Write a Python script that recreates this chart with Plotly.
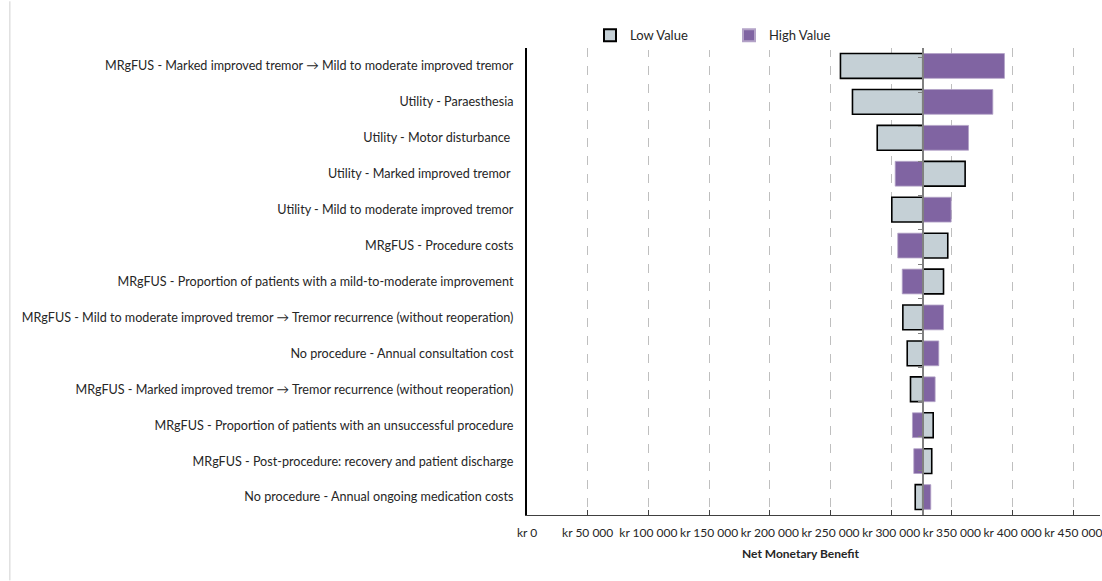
import plotly.graph_objects as go

# Tornado diagram: one-way sensitivity of the net monetary benefit (NOK)
parameters = [
    "MRgFUS - Marked improved tremor \u2192 Mild to moderate improved tremor",
    "Utility - Paraesthesia",
    "Utility - Motor disturbance ",
    "Utility - Marked improved tremor ",
    "Utility - Mild to moderate improved tremor",
    "MRgFUS - Procedure costs",
    "MRgFUS - Proportion of patients with a mild-to-moderate improvement",
    "MRgFUS - Mild to moderate improved tremor \u2192 Tremor recurrence (without reoperation)",
    "No procedure - Annual consultation cost",
    "MRgFUS - Marked improved tremor \u2192 Tremor recurrence (without reoperation)",
    "MRgFUS - Proportion of patients with an unsuccessful procedure",
    "MRgFUS - Post-procedure: recovery and patient discharge",
    "No procedure - Annual ongoing medication costs",
]
base_nmb = 326000
low_values = [258200, 268100, 288500, 360900, 300500, 346600, 343100,
              309600, 313200, 315900, 334600, 333400, 319800]
high_values = [393300, 383700, 363700, 303300, 349400, 305400, 309100,
               343100, 339200, 336200, 317500, 318600, 332600]

tick_vals = [0, 50000, 100000, 150000, 200000, 250000, 300000, 350000, 400000, 450000]
tick_text = ["kr 0", "kr 50 000", "kr 100 000", "kr 150 000", "kr 200 000",
             "kr 250 000", "kr 300 000", "kr 350 000", "kr 400 000", "kr 450 000"]
x_max = 472000

font_family = "Lato, 'Open Sans', sans-serif"
text_color = "#262626"

fig = go.Figure()
fig.add_trace(go.Bar(
    y=parameters,
    x=[v - base_nmb for v in low_values],
    base=base_nmb,
    orientation="h",
    name="Low Value",
    marker=dict(color="#c5d0d6", line=dict(color="#000000", width=1.6)),
))
fig.add_trace(go.Bar(
    y=parameters,
    x=[v - base_nmb for v in high_values],
    base=base_nmb,
    orientation="h",
    name="High Value",
    marker=dict(color="#8064a2", line=dict(color="#b3a2c7", width=0.8)),
))
# invisible helper trace carrying the centre axis through the base case
fig.add_trace(go.Scatter(
    x=[base_nmb] * len(parameters), y=parameters, yaxis="y2",
    mode="markers", marker=dict(opacity=0), showlegend=False, hoverinfo="skip",
))

fig.update_layout(
    width=1102, height=581,
    margin=dict(l=527, r=2, t=48, b=66),
    paper_bgcolor="white", plot_bgcolor="white",
    barmode="overlay", bargap=0.31,
    font=dict(family=font_family, size=12, color=text_color),
    legend=dict(
        orientation="h", x=0.11, y=0.995, xanchor="left", yanchor="bottom",
        entrywidth=94, entrywidthmode="pixels",
        font=dict(size=13, color=text_color), itemsizing="constant",
    ),
    xaxis=dict(
        range=[0, x_max], tickvals=tick_vals, ticktext=tick_text,
        automargin=False,
        showgrid=True, gridcolor="#bfbfbf", griddash="dash", gridwidth=1,
        showline=True, linecolor="#404040", linewidth=1,
        ticks="inside", ticklen=5, tickcolor="#404040",
        ticklabelstandoff=7, ticklabeloverflow="allow",
        zeroline=False, tickfont=dict(size=12, color=text_color),
    ),
    yaxis=dict(
        categoryorder="array", categoryarray=parameters, autorange="reversed",
        automargin=False,
        showline=True, linecolor="#000000", linewidth=2,
        ticks="", ticklabelstandoff=9, showgrid=False, zeroline=False,
        tickfont=dict(size=12.6, color=text_color),
    ),
    yaxis2=dict(
        overlaying="y", anchor="free", position=base_nmb / x_max, side="left",
        categoryorder="array", categoryarray=parameters, autorange="reversed",
        automargin=False,
        showline=True, linecolor="#808080", linewidth=1.5,
        ticks="outside", tickson="boundaries", ticklen=4, tickcolor="#808080",
        showticklabels=False, showgrid=False, zeroline=False,
    ),
    annotations=[dict(
        text="<b>Net Monetary Benefit</b>", xref="x", yref="paper",
        x=225000, y=0, yshift=-48, showarrow=False,
        font=dict(size=12, color=text_color), yanchor="bottom",
    )],
    shapes=[dict(
        type="line", xref="paper", yref="paper", x0=-0.9025, x1=-0.9025,
        y0=-0.14, y1=1.1, line=dict(color="#d0d0d0", width=1),
    )],
)

fig.write_html("out.html")
